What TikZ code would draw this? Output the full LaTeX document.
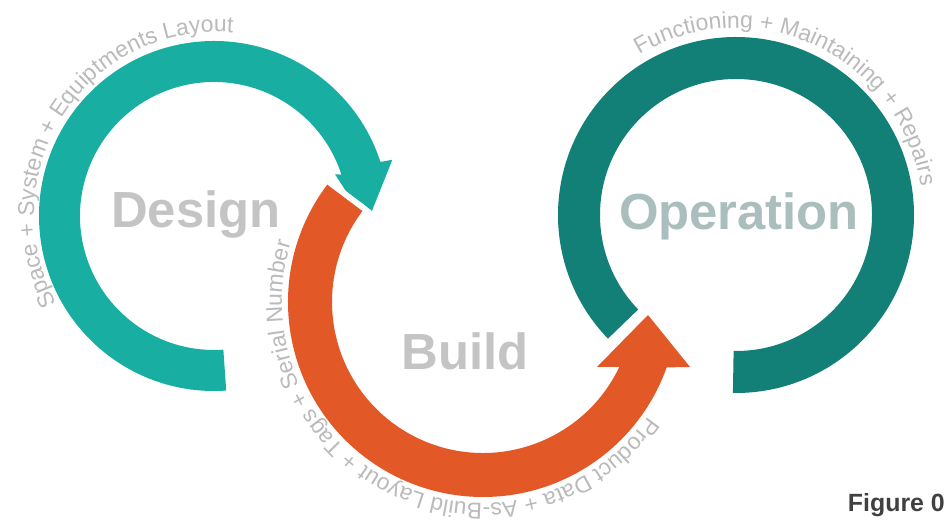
\documentclass[tikz,border=0pt]{standalone}
\usepackage{fontspec}
\setmainfont{Liberation Sans}
\usepackage{tikz}
\usetikzlibrary{calc, decorations.text}
\definecolor{designteal}{RGB}{24,174,162}
\definecolor{opteal}{RGB}{19,128,119}
\definecolor{buildorange}{RGB}{226,88,38}
\definecolor{wordgray}{RGB}{196,196,196}
\definecolor{opgray}{RGB}{170,190,189}
\definecolor{arcgray}{RGB}{186,186,186}
\definecolor{figgray}{RGB}{64,64,64}

\begin{document}
\begin{tikzpicture}[x=1bp, y=1bp,
    stagelabel/.style={font=\fontsize{51}{56}\selectfont\bfseries, anchor=base, inner sep=0pt},
    ringtext/.style={decorate, decoration={text along path, text align=center, text color=arcgray,
      text={|\fontsize{23}{25}\selectfont|#1}}}]
    \useasboundingbox (0,0) rectangle (947,523);

    % Ring centres
    \coordinate (designc) at (214,307);
    \coordinate (buildc) at (483,221);
    \coordinate (opc) at (736,308);
    \coordinate (designtc) at (217,308);

    % Design ring with its arrow head
    \fill[designteal] ($(designc)+(274:175)$) arc[start angle=274, end angle=18, radius=175]
        -- ($(designc)+(17.5:187)$) -- (372,312.2) -- (345.9,331.9) -- ($(designc)+(19:128)$)
        -- ($(designc)+(18:134)$) arc[start angle=18, end angle=274, radius=134] -- cycle;

    % Operation ring
    \fill[opteal] ($(opc)+(224:178)$) arc[start angle=224, end angle=-91, radius=178]
        -- ($(opc)+(-91:136)$) arc[start angle=-91, end angle=224, radius=136] -- cycle;

    % Build ring on top, with a white edge
    \fill[buildorange, preaction={draw=white, line width=12bp, line join=round}]
        ($(buildc)+(143:195)$) arc[start angle=143, end angle=340.4, radius=195]
        -- (690,156) -- (648,208) -- (597,156)
        -- ($(buildc)+(334.6:151)$) arc[start angle=334.6, end angle=143, radius=151] -- cycle;

    % Texts round the rings
    \path[ringtext={Space + System + Equiptments Layout}]
        ($(designtc)+(214:183)$) arc[start angle=214, end angle=80, radius=183];
    \path[ringtext={Product Data + As-Build Layout + Tags + Serial Number}]
        ($(buildc)+(332:201)$) arc[start angle=332, end angle=156, radius=201];
    \path[ringtext={Functioning + Maintaining + Repairs}]
        ($(opc)+(127:187)$) arc[start angle=127, end angle=3, radius=187];

    % Stage names
    \node[stagelabel, text=wordgray] (design) at (196,295) {Design};
    \node[stagelabel, text=wordgray] (build) at (465,153) {Build};
    \node[stagelabel, text=opgray] (operation) at (739,293) {Operation};

    \node[font=\fontsize{25}{28}\selectfont\bfseries, text=figgray, anchor=base east, inner sep=0pt] (figno) at (945,11) {Figure 0};
\end{tikzpicture}
\end{document}
